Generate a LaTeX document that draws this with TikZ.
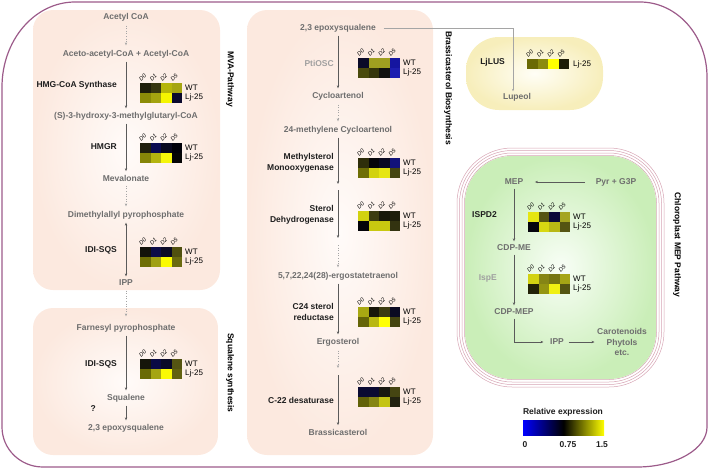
\documentclass[tikz,border=0pt]{standalone}
\usepackage{fontspec}
\setmainfont{Liberation Sans}
\usetikzlibrary{arrows.meta,calc}
\definecolor{borderc}{HTML}{9C5B8A}
\definecolor{metgrey}{HTML}{6E6E6E}
\definecolor{lightgrey}{HTML}{A0A0A0}
\definecolor{arrc}{HTML}{5A5A5A}
\definecolor{dotc}{HTML}{A5A5A5}
\definecolor{peachin}{HTML}{FFFBF9}
\definecolor{peachout}{HTML}{FCE9DF}
\definecolor{yelin}{HTML}{FFFEF6}
\definecolor{yelout}{HTML}{F7EEBB}
\definecolor{greenin}{HTML}{F8FEF6}
\definecolor{greenout}{HTML}{CAEEB8}
\definecolor{chlc}{HTML}{D6A3B3}
\newcommand\hmcell[3]{\definecolor{hmtmp}{HTML}{#3}\fill[hmtmp] (#1,#2) rectangle ++(10.5,9.75);}
\newcommand\hmrow[6]{\hmcell{#1}{#2}{#3}\hmcell{#1+10.5}{#2}{#4}\hmcell{#1+21}{#2}{#5}\hmcell{#1+31.5}{#2}{#6}}
\newcommand\hmcols[3]{\foreach \lab [count=\k from 0] in {D0,D1,D2,D5}{\node[collab] (#3\lab) at (#1+1.5+\k*10.5,#2-0.8) {\lab};}}
\newcommand\hmwt[3]{\node[wt] (#3wt) at (#1+45,#2+4.9) {WT};\node[wt] (#3lj) at (#1+45,#2+14.6) {Lj-25};}
\newcommand\heat[4]{\hmrow{#1}{#2}#3\hmrow{#1}{#2+9.75}#4\hmcols{#1}{#2}{h#1x#2}\hmwt{#1}{#2}{h#1x#2}}
\begin{document}
\begin{tikzpicture}[x=1pt,y=-1pt,
  met/.style={font=\bfseries\fontsize{8.5}{10.5}\selectfont, text=metgrey, inner sep=1.5pt},
  enz/.style={font=\bfseries\fontsize{8.5}{11}\selectfont, text=black!88, anchor=east, align=right, inner sep=1pt},
  wt/.style={font=\fontsize{8}{9}\selectfont, anchor=west, inner sep=0pt},
  collab/.style={font=\itshape\fontsize{5.7}{6}\selectfont, rotate=45, anchor=south west, inner sep=0.3pt},
  ptitle/.style={font=\bfseries\fontsize{8.5}{10}\selectfont, rotate=-90, inner sep=0pt},
  arr/.style={draw=arrc, line width=0.6pt, -{Stealth[length=3pt,width=2.4pt]}, shorten <=2pt, shorten >=2pt},
  dotarr/.style={draw=dotc, line width=0.6pt, dotted, -{Stealth[length=3pt,width=2.4pt]}, shorten <=3pt, shorten >=3pt},
  thinarr/.style={draw=dotc, line width=0.6pt, -{Stealth[length=2.5pt,width=2pt]}},
  chl/.style={draw=chlc, line width=0.5pt}]
\useasboundingbox (0,0) rectangle (709,469);
% outer border
\draw[borderc, line width=1.2pt] (75,2) -- (640,2)
  arc[start angle=-90, end angle=0, x radius=67, y radius=75] -- (707,427)
  arc[start angle=0, end angle=90, x radius=70, y radius=40] -- (43,467)
  arc[start angle=90, end angle=180, x radius=41, y radius=40] -- (2,87)
  arc[start angle=180, end angle=270, x radius=73, y radius=85] -- cycle;
% panels
\shade[inner color=peachin, outer color=peachout, rounded corners=20] (33,10) rectangle (220,290);
\shade[inner color=peachin, outer color=peachout, rounded corners=20] (33,308) rectangle (218,455);
\shade[inner color=peachin, outer color=peachout, rounded corners=20] (247,10) rectangle (433,455);
\shade[inner color=yelin, outer color=yelout, rounded corners=33] (466,37) rectangle (603,110);
\foreach \o in {0,2.5,5,7.5}{\draw[chl, rounded corners=55-\o] (457+\o,148+\o) rectangle (664-\o,387-\o);}
\shade[inner color=greenin, outer color=greenout, rounded corners=47] (465,156) rectangle (656,379);
% panel titles
\node[ptitle] (tmva) at (230,79) {MVA-Pathway};
\node[ptitle] (tsq) at (230,373) {Squalene synthesis};
\node[ptitle] (tbr) at (448,88) {Brassicasterol Biosynthesis};
\node[ptitle] (tchl) at (677,245) {Chloroplast MEP Pathway};
% MVA pathway
\node[met] (acetyl) at (126,17) {Acetyl CoA};
\node[met] (aceto) at (126,54) {Aceto-acetyl-CoA + Acetyl-CoA};
\node[met] (hmgcoa) at (126,116) {(S)-3-hydroxy-3-methylglutaryl-CoA};
\node[met] (meval) at (126,178) {Mevalonate};
\node[met] (dmapp) at (126,215) {Dimethylallyl pyrophosphate};
\node[met] (ipp) at (126,283) {IPP};
\node[met] (fpp) at (126,328) {Farnesyl pyrophosphate};
\node[met] (squal) at (126,398) {Squalene};
\node[met] (epox1) at (126,428) {2,3 epoxysqualene};
\node[enz] (qm) at (97,409) {?};
\draw[dotarr] (acetyl) -- (aceto);
\draw[arr] (aceto) -- (hmgcoa);
\draw[arr] (hmgcoa) -- (meval);
\draw[dotarr] (meval) -- (dmapp);
\draw[arr, {Stealth[length=3pt,width=2.4pt]}-{Stealth[length=3pt,width=2.4pt]}] (dmapp) -- (ipp);
\draw[dotarr, shorten >=6pt] (ipp) -- (fpp);
\draw[arr] (fpp) -- (squal);
\draw[arr] (squal) -- (epox1);
\node[enz] (hmgs) at (118,85) {HMG-CoA Synthase};
\node[enz] (hmgr) at (118,147) {HMGR};
\node[enz] (idi1) at (118,250) {IDI-SQS};
\node[enz] (idi2) at (118,364) {IDI-SQS};
\heat{140}{83}{{1E1E0A}{36360F}{B5B50A}{A5A512}}{{8C8C08}{A3A30F}{F5F500}{0A0A2E}}
\heat{140}{143}{{1E1E0C}{0A0A50}{08081E}{000008}}{{858508}{B4B40F}{F5F50A}{050505}}
\heat{140}{247}{{12120A}{0C0C48}{0A0A25}{50500F}}{{6E6E05}{A0A012}{FAFA00}{6B6B10}}
\heat{140}{359}{{15150A}{0A0A45}{0A0A28}{555512}}{{6A6A05}{A5A512}{FAFA05}{626210}}
% Brassicasterol
\node[met] (epox2) at (338,28) {2,3 epoxysqualene};
\node[met] (cyclo) at (338,96) {Cycloartenol};
\node[met] (meth24) at (338,130) {24-methylene Cycloartenol};
\coordinate (b1) at (338,184);
\coordinate (b2) at (338,190);
\coordinate (b3) at (338,238);
\coordinate (b4) at (338,245);
\node[met] (ergosta) at (338,276) {5,7,22,24(28)-ergostatetraenol};
\node[met] (ergost) at (338,342) {Ergosterol};
\coordinate (b5) at (338,368);
\coordinate (b6) at (338,375);
\node[met] (brass) at (338,432) {Brassicasterol};
\draw[arr] (epox2) -- (cyclo);
\draw[dotarr] (cyclo) -- (meth24);
\draw[arr, shorten >=0pt] (meth24) -- (b1);
\draw[arr, shorten <=0pt, shorten >=0pt] (b2) -- (b3);
\draw[dotarr, shorten <=0pt] (b4) -- (ergosta);
\draw[arr] (ergosta) -- (ergost);
\draw[dotarr, shorten >=0pt] (ergost) -- (b5);
\draw[arr, shorten <=0pt] (b6) -- (brass);
\node[enz, text=lightgrey] (ptiosc) at (335,63) {PtiOSC};
\node[enz] (mso) at (335,162.5) {Methylsterol\\Monooxygenase};
\node[enz] (sdh) at (335,214.5) {Sterol\\Dehydrogenase};
\node[enz] (c24) at (335,312) {C24 sterol\\reductase};
\node[enz] (c22) at (335,400) {C-22 desaturase};
\heat{358}{58}{{0A0A28}{A0A020}{A0A020}{1515A0}}{{4A4A0C}{35350A}{121210}{1E1EB0}}
\heat{358}{158}{{2E2E0A}{06060A}{0A0A22}{12127A}}{{6E6E05}{D2D210}{E6E612}{454510}}
\heat{358}{211}{{D2D20F}{3C3C10}{18180A}{1E1E0A}}{{030308}{C8C810}{C8C810}{333310}}
\heat{358}{307}{{A8A812}{16160A}{3C3C10}{0A0A22}}{{656508}{B8B812}{FFFF05}{454510}}
\heat{358}{387}{{0A0A32}{0A0A32}{18180F}{454512}}{{626208}{858512}{C4C412}{222210}}
% LjLUS
\node[enz] (ljlus) at (506,62) {LjLUS};
\node[met] (lupeol) at (517,97) {Lupeol};
\coordinate (lupc) at (513,28);
\draw[thinarr, shorten <=6pt] (epox2.east) -- (lupc) -- (lupc |- lupeol.north);
\hmrow{527}{59}{6A6A05}{8C8C10}{FFFF00}{1E1E08}
\hmcols{527}{59}{lus}
\node[wt] (luslj) at (573,64) {Lj-25};
% Chloroplast MEP
\node[met] (mep) at (514,182) {MEP};
\node[met] (pyr) at (616,182) {Pyr + G3P};
\node[met] (cdpme) at (514,248) {CDP-ME};
\node[met] (cdpmep) at (514,312) {CDP-MEP};
\node[met] (ipp2) at (557,342) {IPP};
\node[met, align=center] (caro) at (622,342) {Carotenoids\\Phytols\\etc.};
\draw[arr, shorten <=9pt, shorten >=10pt] (pyr) -- (mep);
\draw[arr] (mep) -- (cdpme);
\draw[arr] (cdpme) -- (cdpmep);
\draw[arr, shorten >=5pt] (cdpmep.south) |- (ipp2.west);
\draw[arr, shorten <=3pt, shorten >=1pt] (ipp2) -- (caro);
\node[enz] (ispd) at (498,215) {ISPD2};
\node[enz, text=lightgrey] (ispe) at (498,278) {IspE};
\heat{528}{212}{{E6E612}{555512}{0A0A38}{A5A520}}{{05050E}{D8D812}{B8B815}{555512}}
\heat{528}{274}{{D2D212}{858515}{757512}{A5A515}}{{222208}{959512}{F0F012}{555512}}
% legend
\node[enz, anchor=center] (relexp) at (563,412) {Relative expression};
\shade[left color=blue, right color=yellow, middle color=black] (523,420) rectangle (604,435);
\node[enz, anchor=center] (l0) at (525,445) {0};
\node[enz, anchor=center] (l075) at (568,445) {0.75};
\node[enz, anchor=center] (l15) at (602,445) {1.5};
\end{tikzpicture}
\end{document}
